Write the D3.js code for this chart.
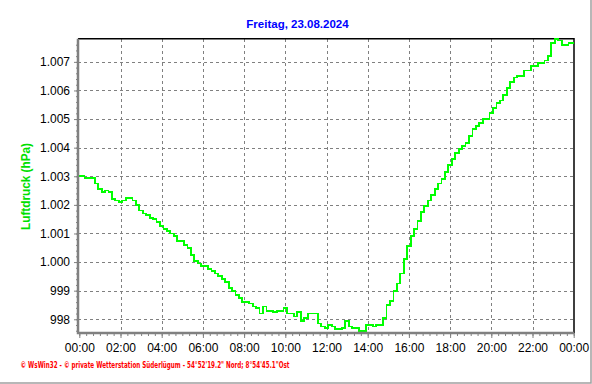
<!DOCTYPE html>
<html>
<head>
<meta charset="utf-8">
<script src="https://cdn.jsdelivr.net/npm/d3@7"></script>
<style>
  body { margin: 0; background: #fff; }
  svg { display: block; }
</style>
</head>
<body>
<div id="chart"></div>
<script>
// Luftdruck, one value every 10 minutes (hPa)
const pressure = [
  1003.0, 1003.0, 1002.95, 1002.95, 1002.95, 1002.75, 1002.55, 1002.45, 1002.5, 1002.45,
  1002.2, 1002.15, 1002.1, 1002.15, 1002.25, 1002.25, 1002.15, 1002.0, 1001.8, 1001.7,
  1001.65, 1001.55, 1001.5, 1001.4, 1001.25, 1001.15, 1001.1, 1001.0, 1000.9, 1000.75,
  1000.75, 1000.6, 1000.5, 1000.25, 1000.05, 999.95, 999.85, 999.85, 999.75, 999.7,
  999.6, 999.5, 999.4, 999.3, 999.1, 999.0, 998.85, 998.75, 998.6, 998.6,
  998.55, 998.45, 998.4, 998.2, 998.45, 998.3, 998.3, 998.25, 998.3, 998.3,
  998.4, 998.2, 998.2, 998.1, 998.25, 997.95, 998.05, 998.2, 998.2, 998.2,
  997.85, 997.75, 997.7, 997.8, 997.75, 997.65, 997.65, 997.7, 997.95, 997.75,
  997.7, 997.7, 997.6, 997.6, 997.8, 997.8, 997.75, 997.8, 997.8, 998.05,
  998.5, 998.65, 999.0, 999.25, 999.6, 1000.1, 1000.55, 1000.9, 1001.15, 1001.45,
  1001.75, 1001.95, 1002.15, 1002.35, 1002.55, 1002.75, 1002.9, 1003.15, 1003.4, 1003.6,
  1003.8, 1003.95, 1004.05, 1004.15, 1004.4, 1004.65, 1004.75, 1004.85, 1005.0, 1005.0,
  1005.2, 1005.4, 1005.55, 1005.65, 1005.85, 1006.1, 1006.3, 1006.45, 1006.5, 1006.5,
  1006.7, 1006.7, 1006.85, 1006.85, 1006.95, 1006.95, 1007.05, 1007.2, 1007.65, 1007.8,
  1007.75, 1007.6, 1007.6, 1007.65, 1007.65
]
const hours = pressure.map((d, i) => i / 6)

const xTicks = [0, 2, 4, 6, 8, 10, 12, 14, 16, 18, 20, 22, 24]
const xTickLabels = ['00:00', '02:00', '04:00', '06:00', '08:00', '10:00', '12:00',
  '14:00', '16:00', '18:00', '20:00', '22:00', '00:00']
const yTicks = [998, 999, 1000, 1001, 1002, 1003, 1004, 1005, 1006, 1007]
const yTickLabels = ['998', '999', '1.000', '1.001', '1.002', '1.003', '1.004',
  '1.005', '1.006', '1.007']

const title = 'Freitag, 23.08.2024'
const yLabel = 'Luftdruck (hPa)'
const footer = '\u00A9 WsWin32  -  \u00A9 private Wetterstation S\u00FCderl\u00FCgum  -  54\u00B052\'19.2" Nord; 8\u00B054\'45.1"Ost'

// canvas
const width = 592,
    height = 384
const pLeft = 78, pRight = 574, pTop = 38.7, pBottom = 333

let svg = d3.select('#chart')
    .append('svg')
    .attr('width', width)
    .attr('height', height)
    .style('background', '#FFFFFF')

const x = d3.scaleLinear().domain([0, 24]).range([79.3, 573.7])
const y = d3.scaleLinear().domain([997.52, 1007.81]).range([pBottom, pTop])

// grid
const grid = svg.append('g')
    .attr('stroke', '#808080')
    .attr('stroke-dasharray', '3,3')
    .attr('shape-rendering', 'crispEdges')
grid.selectAll('line.v')
    .data(xTicks.slice(1, -1))
    .enter().append('line')
    .attr('x1', d => Math.round(x(d)) + 0.5)
    .attr('x2', d => Math.round(x(d)) + 0.5)
    .attr('y1', pTop)
    .attr('y2', pBottom)
grid.selectAll('line.h')
    .data(yTicks)
    .enter().append('line')
    .attr('x1', pLeft)
    .attr('x2', pRight)
    .attr('y1', d => Math.round(y(d)) + 0.5)
    .attr('y2', d => Math.round(y(d)) + 0.5)

// top and right border
svg.append('path')
    .attr('d', `M${pLeft},${pTop}H${pRight}V${pBottom}`)
    .attr('fill', 'none')
    .attr('stroke', '#000')
    .attr('stroke-width', 1.5)

// the line
svg.append('clipPath').attr('id', 'clip')
    .append('rect')
    .attr('x', pLeft).attr('y', pTop - 1)
    .attr('width', pRight - pLeft).attr('height', pBottom - pTop + 1)

const line = d3.line()
    .curve(d3.curveStep)
    .x((d, i) => x(hours[i]))
    .y(d => y(d))

svg.append('path')
    .datum(pressure)
    .attr('clip-path', 'url(#clip)')
    .attr('d', line)
    .attr('fill', 'none')
    .attr('stroke', '#00FF00')
    .attr('stroke-width', 1.8)
    .attr('shape-rendering', 'crispEdges')

// axes
let styleAxis = (g) => {
    g.select('.domain').remove()
    g.selectAll('.tick line').attr('stroke', '#808080')
    g.selectAll('text')
        .attr('fill', '#000')
        .style('font-family', 'Liberation Sans, Arial, sans-serif')
        .style('font-size', '12px')
}

svg.append('g')
    .attr('transform', `translate(${pLeft},0)`)
    .call(d3.axisLeft(y).tickValues(d3.range(997.6, 1007.8, 0.2)).tickSize(2).tickFormat(''))
    .call(styleAxis)

svg.append('g')
    .attr('transform', `translate(${pLeft},0)`)
    .call(d3.axisLeft(y).tickValues(yTicks).tickSize(4).tickPadding(4)
        .tickFormat((d, i) => yTickLabels[i]))
    .call(styleAxis)

svg.append('g')
    .attr('transform', `translate(0,${pBottom})`)
    .call(d3.axisBottom(x).tickValues(d3.range(0, 24.01, 1 / 3)).tickSize(3).tickFormat(''))
    .call(styleAxis)

svg.append('g')
    .attr('transform', `translate(0,${pBottom})`)
    .call(d3.axisBottom(x).tickValues(xTicks).tickSize(5).tickPadding(5)
        .tickFormat((d, i) => xTickLabels[i]))
    .call(styleAxis)

// thick gray axis lines
svg.append('path')
    .attr('d', `M${pLeft},${pTop}V${pBottom}H${pRight}`)
    .attr('fill', 'none')
    .attr('stroke', '#808080')
    .attr('stroke-width', 2.5)

// texts
svg.append('text')
    .attr('x', 297.5)
    .attr('y', 27.7)
    .attr('text-anchor', 'middle')
    .attr('fill', '#0000FF')
    .style('font-family', 'Liberation Sans, Arial, sans-serif')
    .style('font-size', '11.5px')
    .style('font-weight', 'bold')
    .text(title)

svg.append('text')
    .attr('transform', 'translate(29.5,186.5) rotate(-90)')
    .attr('text-anchor', 'middle')
    .attr('fill', '#00E000')
    .attr('textLength', 87)
    .attr('lengthAdjust', 'spacingAndGlyphs')
    .style('font-family', 'Liberation Sans, Arial, sans-serif')
    .style('font-size', '12px')
    .style('font-weight', 'bold')
    .text(yLabel)

svg.append('text')
    .attr('x', 20.5)
    .attr('y', 367.5)
    .attr('fill', '#FF0000')
    .attr('textLength', 269)
    .attr('lengthAdjust', 'spacingAndGlyphs')
    .style('font-family', 'DejaVu Sans, sans-serif')
    .style('font-size', '8px')
    .style('font-weight', 'bold')
    .text(footer)

// window frame
svg.append('path')
    .attr('d', `M${width - 1},0V${height - 1}H0`)
    .attr('fill', 'none')
    .attr('stroke', '#A0A0A0')
    .attr('stroke-width', 1.5)
</script>
</body>
</html>
